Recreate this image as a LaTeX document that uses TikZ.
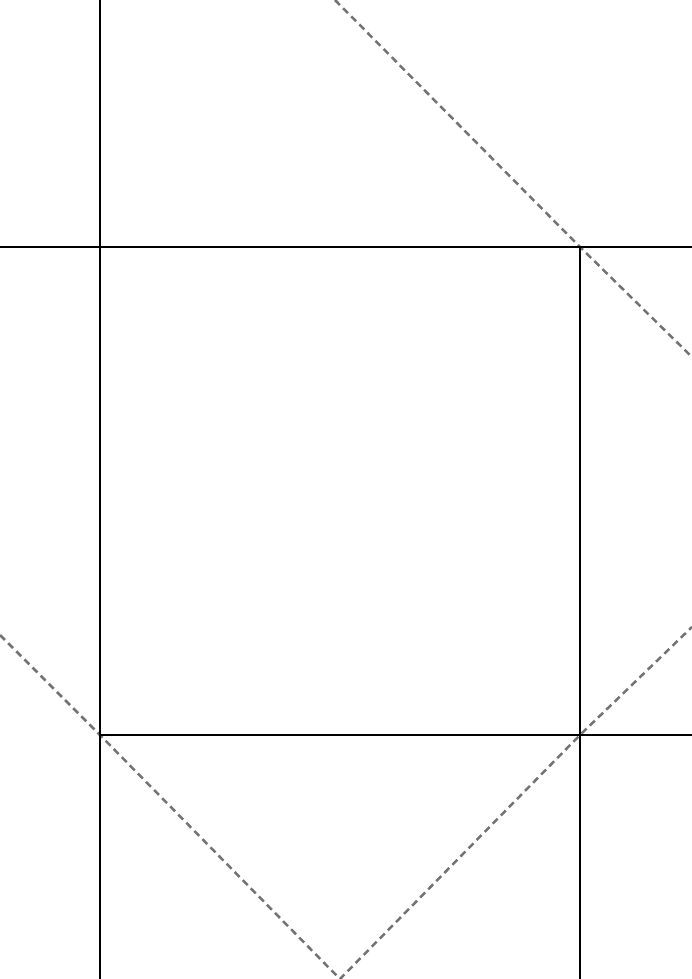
\documentclass[tikz,border=0pt]{standalone}
\begin{document}
\begin{tikzpicture}[x=1pt,y=-1pt,
  solidline/.style={black,line width=2.8pt},
  guideline/.style={gray!90!black,line width=2.5pt,dash pattern=on 7pt off 4.5pt}]
\useasboundingbox (0,0) rectangle (692,979);
\clip (0,0) rectangle (692,979);
\coordinate (A) at (100,247);
\coordinate (B) at (580,247);
\coordinate (C) at (580,735);
\coordinate (D) at (100,735);
\coordinate (V) at (340,979);
% dashed diagonals
\draw[guideline] (335,0) -- (B) -- (692,357);
\draw[guideline] (0,635) -- (D) -- (V) -- (C) -- (692,627);
% solid lines
\draw[solidline] (100,-5) -- (100,985);
\draw[solidline] (-5,247) -- (697,247);
\draw[solidline] (B) -- (580,985);
\draw[solidline] (D) -- (697,735);
\end{tikzpicture}
\end{document}
